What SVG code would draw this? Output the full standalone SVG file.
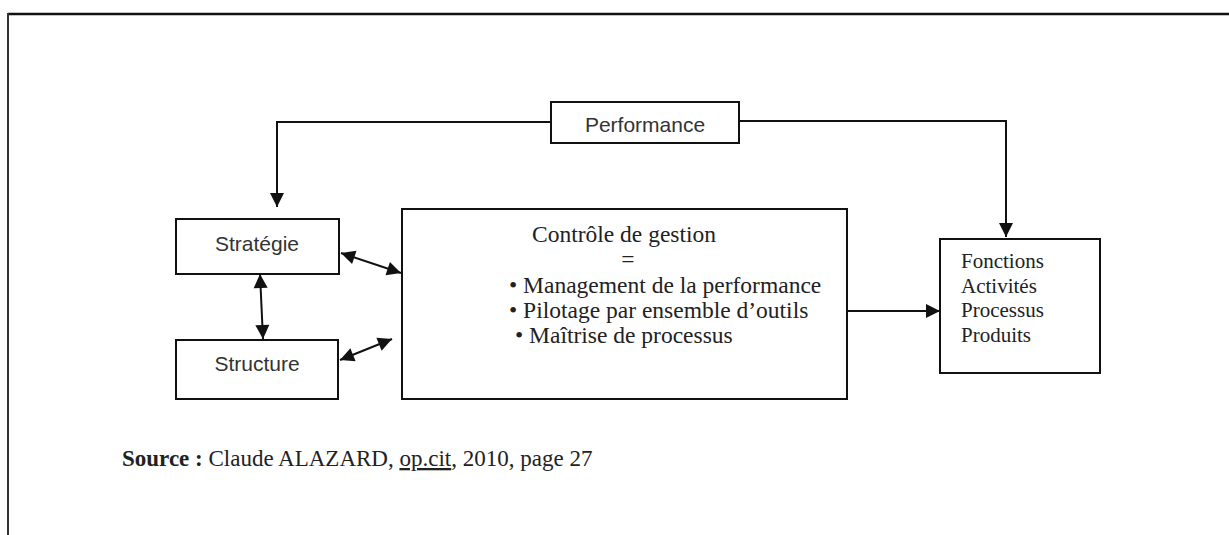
<svg xmlns="http://www.w3.org/2000/svg" width="1229" height="535" viewBox="0 0 1229 535">
  <style>
    .box { fill: #fff; stroke: #111; stroke-width: 2; }
    .link { fill: none; stroke: #111; stroke-width: 2; }
    .sans { font-family: "Liberation Sans", Arial, sans-serif; font-size: 21px; fill: #333; }
    .serif { font-family: "Liberation Serif", "Times New Roman", serif; fill: #222; }
  </style>
  <defs>
    <marker id="head" markerUnits="userSpaceOnUse" markerWidth="16" markerHeight="16" viewBox="0 0 16 16" refX="15" refY="8" orient="auto-start-reverse">
      <path d="M1,1 L15,8 L1,15 z" fill="#111"/>
    </marker>
  </defs>

  <!-- frame -->
  <g id="frame">
    <line x1="8" y1="14" x2="1229" y2="14" stroke="#111" stroke-width="2.5"/>
    <line x1="8" y1="13" x2="8" y2="535" stroke="#333" stroke-width="2"/>
  </g>

  <!-- connectors -->
  <g id="connectors">
    <polyline class="link" points="551,122 277,122 277,207" marker-end="url(#head)"/>
    <polyline class="link" points="739,121 1006,121 1006,237" marker-end="url(#head)"/>
    <line class="link" x1="341" y1="253" x2="401" y2="273" marker-start="url(#head)" marker-end="url(#head)"/>
    <line class="link" x1="260" y1="274" x2="263" y2="339" marker-start="url(#head)" marker-end="url(#head)"/>
    <line class="link" x1="340" y1="360" x2="392" y2="339" marker-start="url(#head)" marker-end="url(#head)"/>
    <line class="link" x1="848" y1="311" x2="940" y2="311" marker-end="url(#head)"/>
  </g>

  <g id="performance">
    <rect class="box" x="551" y="102" width="188" height="41"/>
    <text class="sans" x="645" y="132" text-anchor="middle">Performance</text>
  </g>

  <g id="strategie">
    <rect class="box" x="176" y="219" width="163" height="55"/>
    <text class="sans" x="257" y="251" text-anchor="middle">Stratégie</text>
  </g>

  <g id="structure">
    <rect class="box" x="176" y="340" width="162" height="59"/>
    <text class="sans" x="257" y="371" text-anchor="middle">Structure</text>
  </g>

  <g id="controle">
    <rect class="box" x="402" y="209" width="445" height="190"/>
    <text class="serif" font-size="23.5" x="532" y="242">Contrôle de gestion</text>
    <text class="serif" font-size="23.5" x="628" y="267" text-anchor="middle">=</text>
    <text class="serif" font-size="23.5" x="509" y="293">• Management de la performance</text>
    <text class="serif" font-size="23.5" x="509" y="318">• Pilotage par ensemble d’outils</text>
    <text class="serif" font-size="23.5" x="515" y="343">• Maîtrise de processus</text>
  </g>

  <g id="fonctions">
    <rect class="box" x="940" y="239" width="160" height="134"/>
    <text class="serif" font-size="21" x="961" y="268">Fonctions</text>
    <text class="serif" font-size="21" x="961" y="293">Activités</text>
    <text class="serif" font-size="21" x="961" y="317">Processus</text>
    <text class="serif" font-size="21" x="961" y="342">Produits</text>
  </g>

  <g id="source">
    <text class="serif" font-size="23" x="122" y="466" fill="#111"><tspan font-weight="bold">Source :</tspan> Claude ALAZARD, <tspan text-decoration="underline">op.cit</tspan>, 2010, page 27</text>
  </g>
</svg>
